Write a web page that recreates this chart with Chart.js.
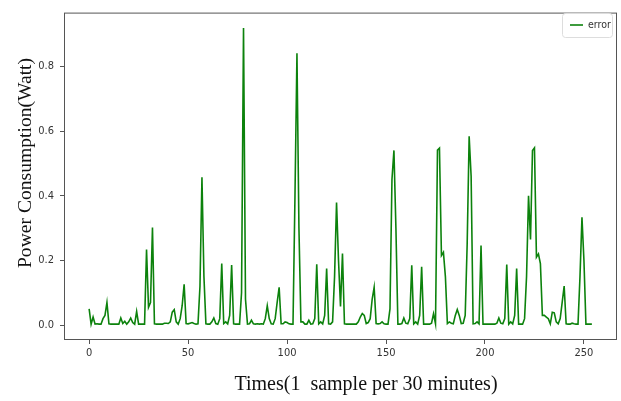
<!DOCTYPE html>
<html>
<head>
<meta charset="utf-8">
<script src="https://cdn.jsdelivr.net/npm/chart.js@4/dist/chart.umd.min.js"></script>
<style>
  html, body { margin: 0; padding: 0; background: #fff; }
  #wrap { width: 621px; height: 401px; }
</style>
</head>
<body>
<div id="wrap"><canvas id="errorCanvas" width="621" height="401"></canvas></div>
<script>
// power error per sample (1 sample per 30 minutes)
const errorValues = [
  0.05, 0.003, 0.025, 0.003, 0.004, 0.003, 0.003, 0.02, 0.03, 0.07,
  0.004, 0.003, 0.003, 0.003, 0.003, 0.003, 0.022, 0.005, 0.012, 0.003,
  0.01, 0.022, 0.008, 0.003, 0.042, 0.003, 0.003, 0.003, 0.003, 0.234,
  0.055, 0.07, 0.302, 0.004, 0.003, 0.003, 0.003, 0.003, 0.006, 0.006,
  0.005, 0.01, 0.04, 0.048, 0.01, 0.003, 0.02, 0.06, 0.126, 0.005,
  0.004, 0.006, 0.008, 0.005, 0.003, 0.004, 0.12, 0.457, 0.15, 0.004,
  0.003, 0.003, 0.01, 0.022, 0.005, 0.003, 0.02, 0.19, 0.005, 0.01,
  0.004, 0.03, 0.186, 0.004, 0.003, 0.003, 0.003, 0.1, 0.918, 0.08,
  0.003, 0.004, 0.015, 0.004, 0.003, 0.004, 0.003, 0.004, 0.003, 0.02,
  0.06, 0.02, 0.004, 0.003, 0.02, 0.07, 0.117, 0.004, 0.004, 0.01,
  0.008, 0.004, 0.003, 0.003, 0.4, 0.84, 0.3, 0.01, 0.01, 0.003,
  0.003, 0.015, 0.003, 0.004, 0.02, 0.188, 0.004, 0.01, 0.004, 0.03,
  0.175, 0.004, 0.003, 0.01, 0.15, 0.379, 0.2, 0.058, 0.221, 0.004,
  0.003, 0.003, 0.003, 0.003, 0.003, 0.003, 0.01, 0.025, 0.036, 0.03,
  0.005, 0.008, 0.02, 0.08, 0.117, 0.005, 0.004, 0.005, 0.01, 0.004,
  0.003, 0.003, 0.05, 0.45, 0.54, 0.3, 0.003, 0.003, 0.005, 0.022,
  0.006, 0.004, 0.02, 0.185, 0.004, 0.01, 0.003, 0.03, 0.18, 0.003,
  0.003, 0.003, 0.003, 0.006, 0.035, 0.004, 0.541, 0.547, 0.215, 0.225,
  0.15, 0.005, 0.01, 0.006, 0.004, 0.03, 0.048, 0.03, 0.005, 0.006,
  0.03, 0.25, 0.584, 0.46, 0.004, 0.005, 0.01, 0.004, 0.246, 0.003,
  0.003, 0.003, 0.003, 0.003, 0.003, 0.003, 0.006, 0.022, 0.006, 0.004,
  0.02, 0.187, 0.003, 0.01, 0.004, 0.03, 0.175, 0.003, 0.003, 0.003,
  0.02, 0.15, 0.40, 0.265, 0.54, 0.548, 0.21, 0.22, 0.19, 0.03,
  0.03, 0.025, 0.02, 0.004, 0.04, 0.038, 0.01, 0.004, 0.02, 0.07,
  0.121, 0.004, 0.003, 0.003, 0.006, 0.004, 0.003, 0.003, 0.15, 0.333,
  0.2, 0.003, 0.003, 0.003, 0.003
];
const xTicks = [0, 50, 100, 150, 200, 250];
const yTicks = [0.0, 0.2, 0.4, 0.6, 0.8];
const seriesName = 'error';
const xTitle = 'Times(1  sample per 30 minutes)';
const yTitle = 'Power Consumption(Watt)';

const LINE_GREEN = '#0c820c';
const FRAME = '#555';
const NARROW = '"Liberation Sans Narrow", "DejaVu Sans Condensed", "DejaVu Sans", sans-serif';

// matplotlib-like frame, legend box and axis titles
const decorPlugin = {
  id: 'decor',
  afterDraw(chart) {
    const { ctx, chartArea: a } = chart;
    ctx.save();
    ctx.strokeStyle = FRAME;
    ctx.lineWidth = 1;
    ctx.strokeRect(a.left + 0.5, a.top + 0.5, a.right - a.left - 1, a.bottom - a.top - 1);

    // legend
    const lx = 562, ly = 13, lw = 50, lh = 24;
    ctx.fillStyle = 'rgba(255,255,255,0.9)';
    ctx.strokeStyle = '#ddd';
    ctx.beginPath();
    ctx.roundRect(lx + 0.5, ly + 0.5, lw, lh, 3);
    ctx.fill();
    ctx.stroke();
    ctx.strokeStyle = LINE_GREEN;
    ctx.lineWidth = 1.6;
    ctx.beginPath();
    ctx.moveTo(570, 25);
    ctx.lineTo(583, 25);
    ctx.stroke();
    ctx.fillStyle = '#333';
    ctx.font = '10.5px ' + NARROW;
    ctx.textBaseline = 'middle';
    ctx.textAlign = 'left';
    ctx.fillText(seriesName, 588, 25);

    // axis titles
    ctx.fillStyle = '#111';
    ctx.font = '20px "Liberation Serif", "Times New Roman", serif';
    ctx.textAlign = 'center';
    ctx.fillText(xTitle, 366, 385);
    ctx.translate(26, 163);
    ctx.rotate(-Math.PI / 2);
    ctx.font = '19.6px "Liberation Serif", "Times New Roman", serif';
    ctx.fillText(yTitle, 0, 0);
    ctx.restore();
  }
};

const tickFont = { family: NARROW, size: 11 };

new Chart(document.getElementById('errorCanvas'), {
  type: 'line',
  data: {
    datasets: [{
      label: seriesName,
      data: errorValues.map((v, i) => ({ x: i, y: v })),
      borderColor: LINE_GREEN,
      borderWidth: 1.6,
      pointRadius: 0,
      tension: 0,
      fill: false,
    }],
  },
  options: {
    responsive: false,
    animation: false,
    layout: { padding: { left: 0, top: 9, right: 4, bottom: 0 } },
    plugins: {
      legend: { display: false },
      tooltip: { enabled: false },
    },
    scales: {
      x: {
        type: 'linear',
        min: -12.7,
        max: 266.7,
        afterBuildTicks: (s) => { s.ticks = xTicks.map((v) => ({ value: v })); },
        afterFit: (s) => { s.height = 61; },
        grid: { drawOnChartArea: false, drawTicks: true, tickLength: 4, color: FRAME },
        border: { display: false },
        ticks: { font: tickFont, color: '#333', padding: 3, maxRotation: 0 },
      },
      y: {
        type: 'linear',
        min: -0.046,
        max: 0.966,
        afterBuildTicks: (s) => { s.ticks = yTicks.map((v) => ({ value: v })); },
        afterFit: (s) => { s.width = 64; },
        grid: { drawOnChartArea: false, drawTicks: true, tickLength: 4, color: FRAME },
        border: { display: false },
        ticks: {
          font: tickFont,
          color: '#333',
          padding: 6,
          callback: (v) => v.toFixed(1),
        },
      },
    },
  },
  plugins: [decorPlugin],
});
</script>
</body>
</html>
